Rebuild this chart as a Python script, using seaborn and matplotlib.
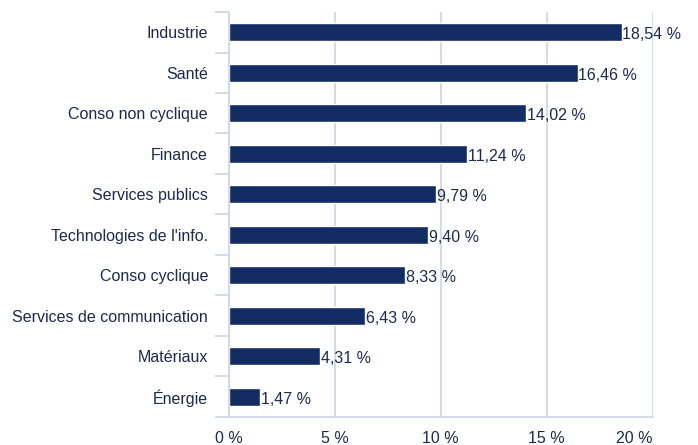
import numpy as np
import pandas as pd
import seaborn as sns
import matplotlib.pyplot as plt
from matplotlib.ticker import FixedLocator

sectors = ['Industrie', 'Santé', 'Conso non cyclique', 'Finance', 'Services publics',
           "Technologies de l'info.", 'Conso cyclique', 'Services de communication',
           'Matériaux', 'Énergie']
weights = [18.54, 16.46, 14.02, 11.24, 9.79, 9.40, 8.33, 6.43, 4.31, 1.47]
xticks = [0, 5, 10, 15, 20]

navy = '#132c63'
text_col = '#1b2a4e'
line_col = '#c9d6e8'
fs = 11.5

sns.set_theme(style='white')
plt.rcParams['font.family'] = ['Liberation Sans', 'DejaVu Sans']

df = pd.DataFrame({'sector': sectors, 'weight': weights})

fig = plt.figure(figsize=(6.98, 4.45), dpi=100)
ax = fig.add_axes([0.328, 0.063, 0.607, 0.910])

sns.barplot(data=df, x='weight', y='sector', orient='h', color=navy,
            saturation=1, width=0.45, ax=ax)

for i, v in enumerate(weights):
    ax.text(v + 0.03, i + 0.06, f'{v:.2f} %'.replace('.', ','), va='center', ha='left',
            fontsize=fs, color=text_col)

ax.set_xlim(0, 20)
ax.set_ylim(len(sectors) - 0.5, -0.5)
ax.set_xticks(xticks)
ax.set_xticklabels([f'{t} %' for t in xticks])
ax.xaxis.grid(True, color=line_col, linewidth=1.2)
ax.set_axisbelow(True)
ax.set_xlabel('')
ax.set_ylabel('')

ax.yaxis.set_minor_locator(FixedLocator(np.arange(-0.5, len(sectors), 1)))
ax.tick_params(axis='y', which='major', length=0, pad=15, labelsize=fs, labelcolor=text_col)
ax.tick_params(axis='y', which='minor', length=10, width=1.2, color=line_col, left=True)
ax.tick_params(axis='x', length=0, pad=10, labelsize=fs, labelcolor=text_col)
labels = ax.get_xticklabels()
labels[-1].set_horizontalalignment('right')

for s in ['top', 'right']:
    ax.spines[s].set_visible(False)
for s in ['left', 'bottom']:
    ax.spines[s].set_color(line_col)
    ax.spines[s].set_linewidth(1.2)

fig.savefig('out.png', dpi=100)
